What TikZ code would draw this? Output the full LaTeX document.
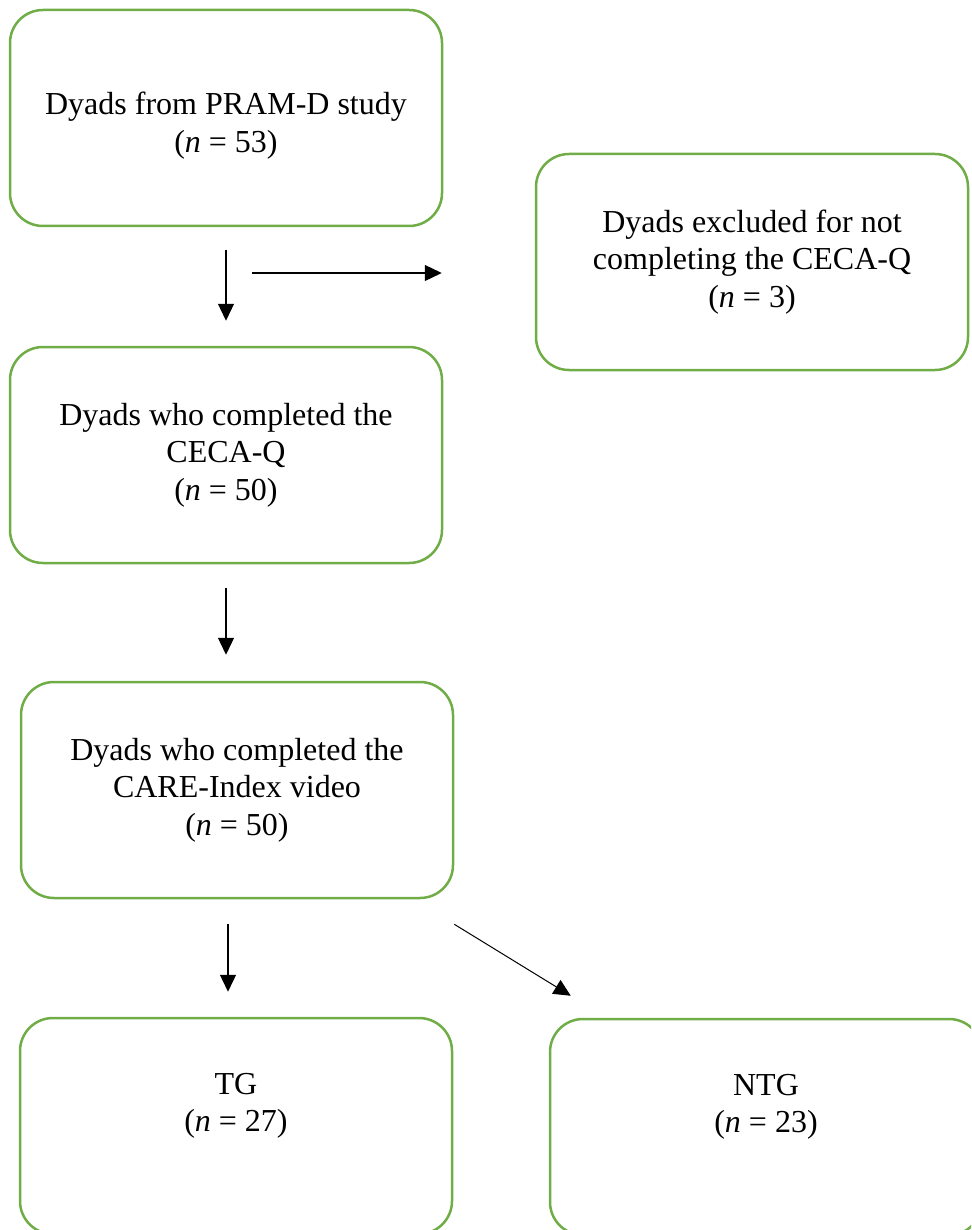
\documentclass[tikz,border=0pt]{standalone}
\usepackage{fontspec}
\setmainfont{Liberation Serif}
\usetikzlibrary{arrows.meta}
\definecolor{boxgreen}{HTML}{70AD47}

\begin{document}
\begin{tikzpicture}[x=1pt,y=-1pt,
	stage/.style={draw=boxgreen,line width=2.5pt,rounded corners=33pt,minimum width=432pt,minimum height=216pt,align=center,font=\fontsize{32}{37.5}\selectfont},
	flow/.style={-{Triangle[length=17pt,width=16pt]},line width=1.3pt}]
			\useasboundingbox (0,0) rectangle (971,1230);
			\clip (0,0) rectangle (971,1230);
			% Participant flow
			\node[stage] (DyadsAll) at (226,118) {\rule{0pt}{38pt}Dyads from PRAM-D study\\(\textit{n} = 53)};
			\node[stage] (Excluded) at (752,262) {Dyads excluded for not\\completing the CECA-Q\\(\textit{n} = 3)};
			\node[stage] (CecaDone) at (226,455) {Dyads who completed the\\CECA-Q\\(\textit{n} = 50)};
			\node[stage] (CareDone) at (237,790) {Dyads who completed the\\CARE-Index video\\(\textit{n} = 50)};
			\node[stage] (TG) at (236,1126) {TG\\(\textit{n} = 27)\rule[-47pt]{0pt}{0pt}};
			\node[stage] (NTG) at (766,1127) {NTG\\(\textit{n} = 23)\rule[-47pt]{0pt}{0pt}};
			\coordinate (Split) at (252,273);
			
			\draw[flow,shorten <=23pt,shorten >=25pt] (DyadsAll) -- (CecaDone);
			\draw[flow,shorten >=93pt] (Split) -- (Split -| Excluded.west);
			\draw[flow,shorten <=24pt,shorten >=26pt] (CecaDone.south) -- (CecaDone.south |- CareDone.north);
			\draw[flow,shorten <=25pt,shorten >=25pt] ([xshift=-9pt]CareDone.south) -- ([xshift=-9pt]CareDone.south |- TG.north);
			\draw[flow,line width=1pt] ([yshift=-25pt]CareDone.south east) -- ([xshift=22pt,yshift=22pt]NTG.north west);
			
\end{tikzpicture}
\end{document}
